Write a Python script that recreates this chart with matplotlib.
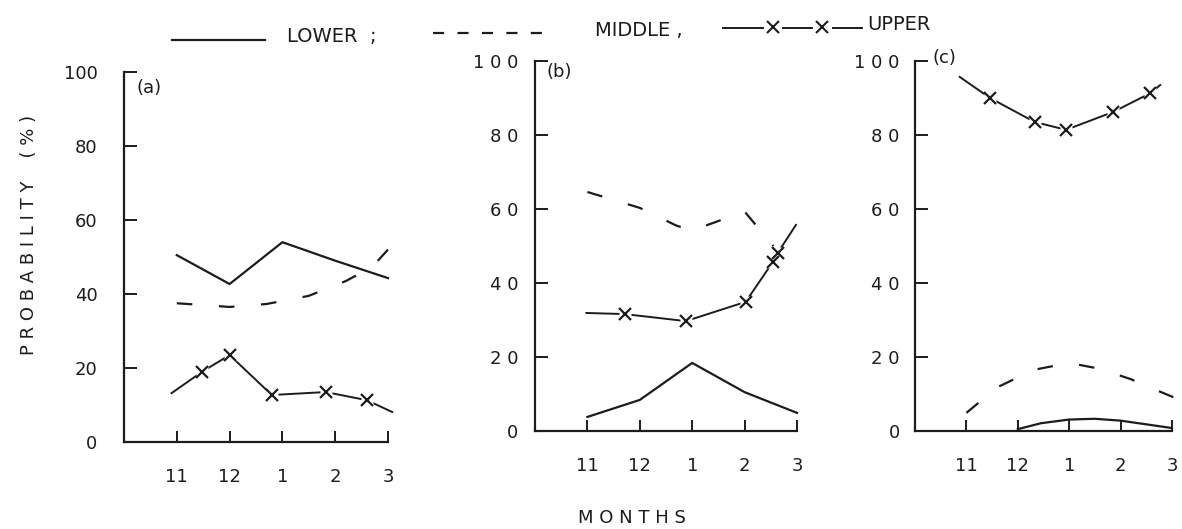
import matplotlib
matplotlib.use("Agg")
import matplotlib.pyplot as plt
from matplotlib.lines import Line2D

W, H = 1182, 529

# months on the x axis (positions 0..4)
months = ["11", "12", "1", "2", "3"]
month_pos = [0, 1, 2, 3, 4]

# panel (a)
a_lower_x = [0, 1, 2, 3, 4]
a_lower_y = [50.5, 42.7, 54.0, 49.0, 44.3]
a_middle_x = [0, 1, 1.7, 2.5, 3.2, 3.7, 4]
a_middle_y = [37.5, 36.5, 37.3, 39.5, 43.5, 47.3, 52.0]
a_upper_x = [-0.1, 0.48, 1.0, 1.8, 2.82, 3.6, 4.08]
a_upper_y = [13.2, 19.0, 23.5, 12.7, 13.5, 11.3, 8.1]

# panel (b)
b_lower_x = [0, 1, 2, 3, 4]
b_lower_y = [3.8, 8.4, 18.4, 10.5, 4.9]
b_middle_x = [0, 1, 1.7, 2.0, 3.0, 3.55]
b_middle_y = [64.6, 60.3, 55.5, 54.2, 59.3, 50.0]
b_upper_x = [-0.02, 0.71, 1.88, 3.02, 3.54, 3.63, 3.98]
b_upper_y = [31.9, 31.6, 29.7, 34.9, 45.7, 48.1, 55.7]

# panel (c)
c_lower_x = [1, 1.45, 2, 2.5, 3, 4]
c_lower_y = [0.5, 2.1, 3.1, 3.3, 2.8, 0.8]
c_middle_x = [0, 0.6, 1.3, 2.0, 2.6, 3.2, 3.6, 4.05]
c_middle_y = [4.9, 11.8, 16.5, 18.4, 16.8, 14.0, 11.6, 9.0]
c_upper_x = [-0.13, 0.46, 1.33, 1.94, 2.85, 3.58, 3.77]
c_upper_y = [95.7, 90.0, 83.5, 81.4, 86.2, 91.3, 93.5]

yticks = [0, 20, 40, 60, 80, 100]
ylabels_a = ["0", "20", "40", "60", "80", "100"]
ylabels_bc = ["0", "2 0", "4 0", "6 0", "8 0", "1 0 0"]

INK = "#1c1c1c"
plt.rcParams["font.family"] = ["DejaVu Sans"]

fig = plt.figure(figsize=(W / 100, H / 100), dpi=100)


def px_axes(left, right, y0, y100):
    return fig.add_axes([left / W, 1 - y0 / H, (right - left) / W, (y0 - y100) / H])


panels = [
    # axes box, panel data, tick labels, y label pad, panel tag and its position
    ((124, 388, 442, 72), (a_lower_x, a_lower_y, a_middle_x, a_middle_y, a_upper_x, a_upper_y),
     ylabels_a, 19, "(a)", (137, 88)),
    ((535, 797, 431, 61), (b_lower_x, b_lower_y, b_middle_x, b_middle_y, b_upper_x, b_upper_y),
     ylabels_bc, 12, "(b)", (547, 72)),
    ((915, 1172, 431, 61), (c_lower_x, c_lower_y, c_middle_x, c_middle_y, c_upper_x, c_upper_y),
     ylabels_bc, 11, "(c)", (933, 58)),
]

for box, data, ylabs, ypad, tag, tagpos in panels:
    ax = px_axes(*box)
    lx, ly, mx, my, ux, uy = data
    ax.plot(lx, ly, color=INK, lw=1.6, clip_on=False)
    ax.plot(mx, my, color=INK, lw=1.6, ls=(0, (7, 12)), clip_on=False)
    ax.plot(ux, uy, color=INK, lw=1.4, clip_on=False)
    ax.plot(ux[1:-1], uy[1:-1], ls="none", marker="s", ms=9, mfc="white", mec="none", clip_on=False)
    ax.plot(ux[1:-1], uy[1:-1], ls="none", marker="x", ms=9, mew=1.6, color=INK, clip_on=False)

    ax.set_xlim(-1, 4)
    ax.set_ylim(0, 100)
    for s in ("top", "right"):
        ax.spines[s].set_visible(False)
    ax.spines["left"].set_bounds(0, 100)
    for s in ("left", "bottom"):
        ax.spines[s].set_linewidth(1.6)
        ax.spines[s].set_color(INK)
    ax.set_xticks(month_pos)
    ax.set_xticklabels(months, fontsize=13)
    ax.set_yticks(yticks)
    ax.set_yticklabels(ylabs, fontsize=13)
    ax.tick_params(axis="x", direction="in", length=8, width=1.4, pad=19, colors=INK)
    ax.tick_params(axis="y", direction="in", length=9, width=1.4, pad=ypad, colors=INK)
    ax.patch.set_alpha(0)
    fig.text(tagpos[0] / W, 1 - tagpos[1] / H, tag, fontsize=13, color=INK, va="center", ha="left")

# axis titles
fig.text(29 / W, 1 - 235 / H, "P R O B A B I L I T Y    ( % )", rotation=90,
         fontsize=13, color=INK, ha="center", va="center")
fig.text(632 / W, 1 - 518 / H, "M O N T H S", fontsize=13, color=INK, ha="center", va="center")

# key along the top
def fline(x0, x1, y, **kw):
    fig.add_artist(Line2D([x0 / W, x1 / W], [1 - y / H, 1 - y / H], transform=fig.transFigure,
                          color=INK, **kw))


fline(172, 265, 40, lw=1.6)
fig.text(287 / W, 1 - 36 / H, "LOWER  ;", fontsize=14, color=INK, va="center")
fline(433, 548, 33, lw=1.6, ls=(0, (5, 6)))
fig.text(595 / W, 1 - 30 / H, "MIDDLE ,", fontsize=14, color=INK, va="center")
fline(723, 763, 28, lw=1.4)
fline(783, 812, 28, lw=1.4)
fline(833, 862, 28, lw=1.4)
for xm in (773, 822):
    fig.add_artist(Line2D([xm / W], [1 - 27 / H], transform=fig.transFigure, marker="x", ms=8,
                          mew=1.5, color=INK, ls="none"))
fig.text(867 / W, 1 - 25 / H, "UPPER", fontsize=14, color=INK, va="center")

fig.savefig("out.png", dpi=100)
